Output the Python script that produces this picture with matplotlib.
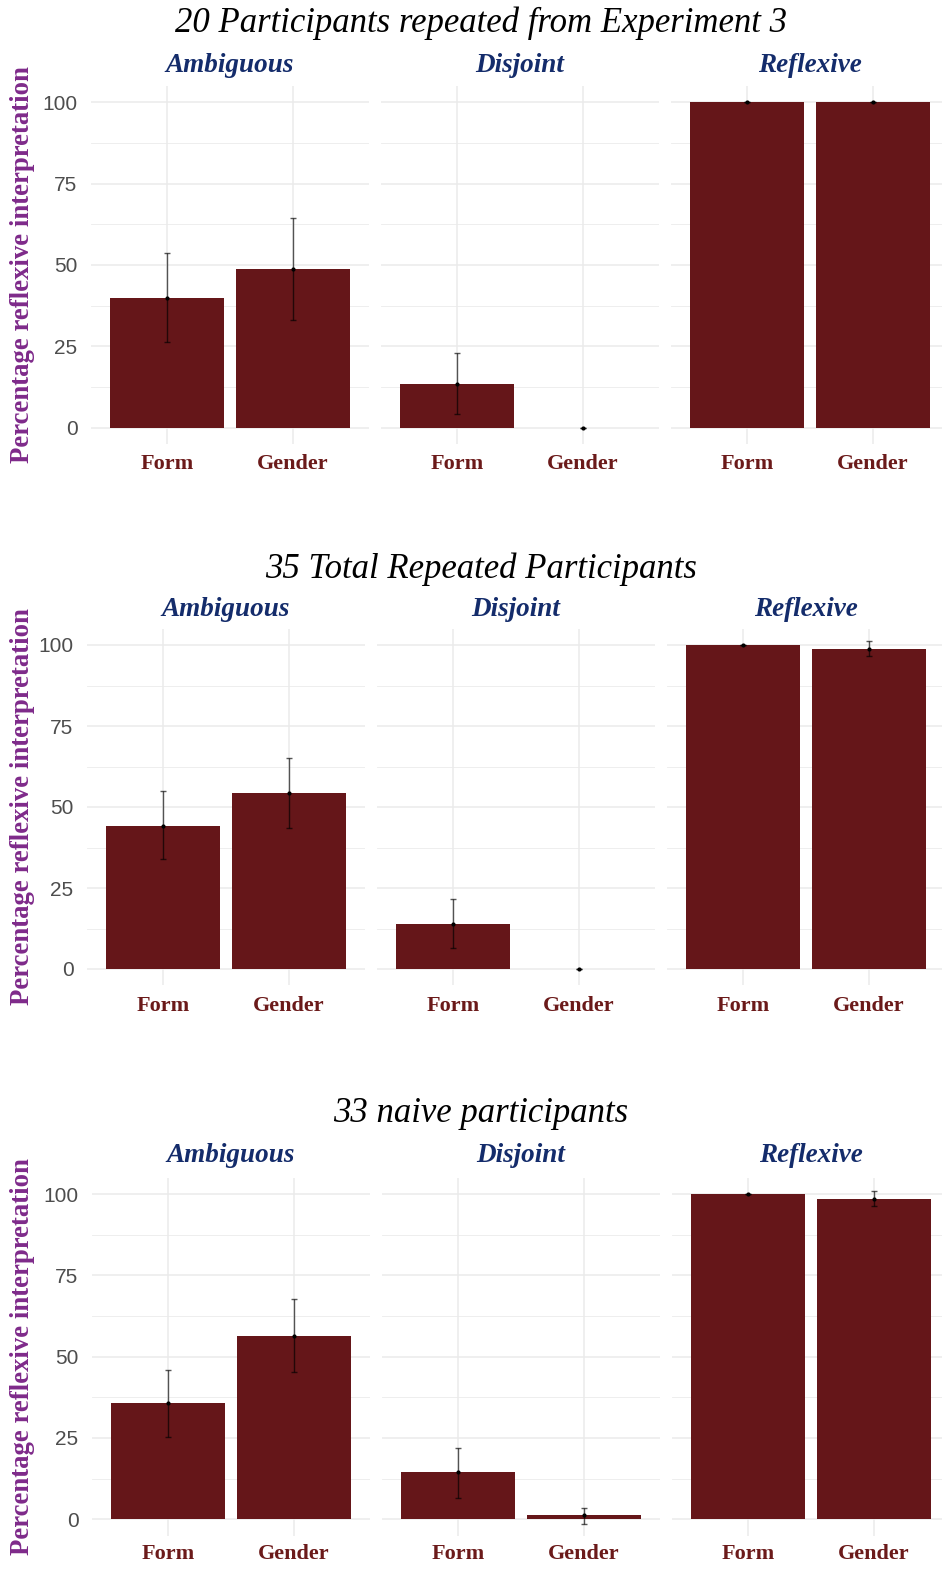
import matplotlib
matplotlib.use("Agg")
import matplotlib.pyplot as plt
import numpy as np

W, H = 942, 1570
DPI = 100

conditions = ["Ambiguous", "Disjoint", "Reflexive"]
groups = ["Form", "Gender"]
titles = ["20 Participants repeated from Experiment 3",
          "35 Total Repeated Participants",
          "33 naive participants"]

# means, lower, upper per row -> per condition -> [Form, Gender]
row1_mean = [[40.0, 48.7], [13.4, 0.0], [100.0, 100.0]]
row1_low = [[26.4, 33.0], [4.1, 0.0], [100.0, 100.0]]
row1_high = [[53.6, 64.4], [22.9, 0.0], [100.0, 100.0]]

row2_mean = [[44.1, 54.3], [14.0, 0.0], [100.0, 98.8]]
row2_low = [[34.0, 43.5], [6.5, 0.0], [100.0, 96.5]]
row2_high = [[55.0, 65.1], [21.6, 0.0], [100.0, 101.1]]

row3_mean = [[35.7, 56.5], [14.4, 1.2], [100.0, 98.5]]
row3_low = [[25.4, 45.4], [6.7, -1.5], [100.0, 96.3]]
row3_high = [[45.9, 67.7], [21.9, 3.5], [100.0, 101.0]]

means = [row1_mean, row2_mean, row3_mean]
lows = [row1_low, row2_low, row3_low]
highs = [row1_high, row2_high, row3_high]

# layout (pixels)
first_tick_x = [167, 163, 168]
panel_step = 290
cat_px = 126
y100_px = [102.3, 645.0, 1194.0]
y0_px = [427.7, 969.0, 1519.3]
title_y = [23, 569, 1114]
strip_y = [65, 609, 1156]
xlab_y = [464, 1006, 1554]

BAR = "#651619"
NAVY = "#142C6B"
PURPLE = "#7E2A8A"
GRID = "#EBEBEB"

fig = plt.figure(figsize=(W / DPI, H / DPI), dpi=DPI)
fig.patch.set_facecolor("white")

serif = ["Liberation Serif", "DejaVu Serif"]
sans = ["Liberation Sans", "DejaVu Sans"]

for r in range(3):
    per_unit = (y0_px[r] - y100_px[r]) / 100.0
    ylo, yhi = -5, 105
    top_px = y100_px[r] - (yhi - 100) * per_unit
    bot_px = y0_px[r] + (0 - ylo) * per_unit
    for c in range(3):
        tick0 = first_tick_x[r] + c * panel_step
        left_px = tick0 - 0.6 * cat_px
        width_px = 2.2 * cat_px
        ax = fig.add_axes([left_px / W, 1 - bot_px / H, width_px / W, (bot_px - top_px) / H])
        ax.set_xlim(0.4, 2.6)
        ax.set_ylim(ylo, yhi)
        for s in ax.spines.values():
            s.set_visible(False)
        ax.set_yticks([0, 25, 50, 75, 100])
        ax.set_yticks([12.5, 37.5, 62.5, 87.5], minor=True)
        ax.set_xticks([1, 2])
        ax.grid(True, which="major", color=GRID, linewidth=1.1, zorder=0)
        ax.grid(True, which="minor", axis="y", color=GRID, linewidth=0.6, zorder=0)
        ax.set_axisbelow(True)
        ax.tick_params(length=0, which="both")
        x = np.arange(1, 3)
        m = np.array(means[r][c])
        lo = np.array(lows[r][c])
        hi = np.array(highs[r][c])
        ax.bar(x, m, width=0.9, color=BAR, zorder=2)
        ax.vlines(x, lo, hi, color="black", alpha=0.65, linewidth=1.0, zorder=3)
        for xi, l, h in zip(x, lo, hi):
            ax.hlines([l, h], xi - 0.025, xi + 0.025, color="black", alpha=0.65, linewidth=1.0, zorder=3)
        ax.scatter(x, m, s=9, color="black", zorder=4, linewidths=0)
        ax.set_xticklabels([])
        if c == 0:
            ax.set_yticklabels(["0", "25", "50", "75", "100"], fontsize=15, color="#4D4D4D",
                               family=sans)
            ax.tick_params(axis="y", pad=10)
        else:
            ax.set_yticklabels([])
        # x labels
        for xi, g in zip(x, groups):
            px = tick0 + (xi - 1) * cat_px
            fig.text(px / W, 1 - xlab_y[r] / H, g, ha="center", va="center",
                     fontsize=16, fontweight="bold", color="#6B1A1A", family=serif)
        # strip
        fig.text((left_px + width_px / 2) / W, 1 - strip_y[r] / H, conditions[c],
                 ha="center", va="center", fontsize=19.5, fontweight="bold", fontstyle="italic",
                 color=NAVY, family=serif)
    fig.text(481 / W, 1 - title_y[r] / H, titles[r], ha="center", va="center",
             fontsize=25, fontstyle="italic", color="black", family=serif)
    fig.text(23 / W, 1 - ((top_px + bot_px) / 2) / H, "Percentage reflexive interpretation",
             ha="center", va="center", rotation=90, fontsize=19.3, fontweight="bold",
             color=PURPLE, family=serif)

fig.savefig("out.png", dpi=DPI, facecolor="white")
